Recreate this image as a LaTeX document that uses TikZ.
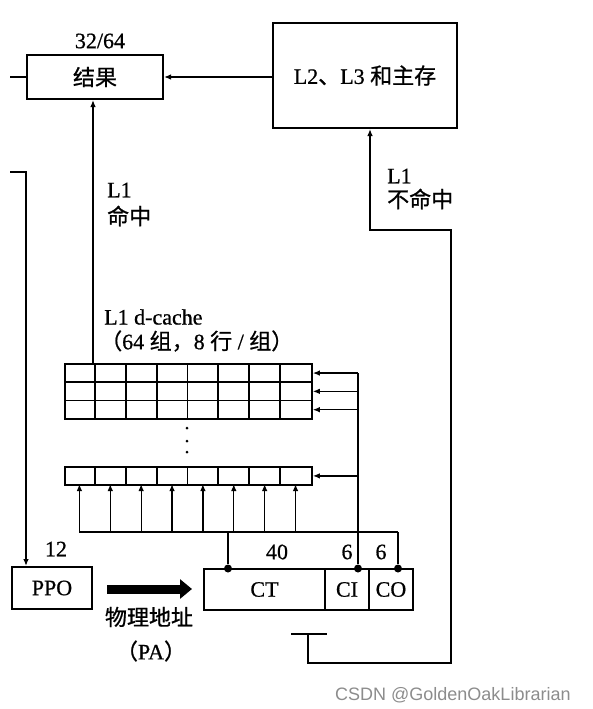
\documentclass[tikz,border=0pt]{standalone}
\usepackage{fontspec}
\setmainfont{Liberation Serif}[FakeBold=0.7]
\newfontfamily\cjk{Noto Sans CJK SC}[FakeBold=0.9]
\newfontfamily\wmfont{Liberation Sans}
\usetikzlibrary{arrows.meta}
\begin{document}
\begin{tikzpicture}[x=1pt,y=-1pt,
  box/.style={draw,line width=2pt,inner sep=0pt,font=\fontsize{22}{26}\selectfont},
  conn/.style={line width=1.3pt},
  arr/.style={conn,-{Latex[length=7pt,width=5.5pt]}},
  lbl/.style={inner sep=0pt,font=\fontsize{22}{26}\selectfont},
  cachebox/.style={draw,line width=1.8pt,inner sep=0pt,minimum width=247pt,anchor=north west},
  bigdot/.style={circle,fill,inner sep=0pt,minimum size=8pt},
  smalldot/.style={circle,fill,inner sep=0pt,minimum size=3pt},
  fat/.style={line width=9pt,-{Triangle[length=12pt,width=19pt]}},
]
\useasboundingbox (0,0) rectangle (592,709);

% main boxes
\node[box,minimum width=136pt,minimum height=44pt] (res) at (95,77) {\cjk 结果};
\node[box,minimum width=184pt,minimum height=105pt] (l2) at (365,75.5) {L2{\cjk 、}L3 {\cjk 和主存}};
\node[box,minimum width=80pt,minimum height=42pt] (ppo) at (52,588) {PPO};
\node[box,minimum width=121pt,minimum height=41pt] (ct) at (264.5,589.5) {CT};
\node[box,minimum width=44pt,minimum height=41pt] (ci) at (347,589.5) {CI};
\node[box,minimum width=44pt,minimum height=41pt] (co) at (391,589.5) {CO};

% labels
\node[lbl] (w3264) at (100,41) {32/64};
\node[lbl,anchor=west] (hit1) at (107,190) {L1};
\node[lbl,anchor=west] (hit2) at (107,216) {\cjk 命中};
\node[lbl,anchor=west] (miss1) at (387,176) {L1};
\node[lbl,anchor=west] (miss2) at (387,199) {\cjk 不命中};
\node[lbl,anchor=west] (cname) at (104,317) {L1 d-cache};
\node[lbl,anchor=west] (cdesc) at (100,341) {{\cjk （}64 {\cjk 组，}8 {\cjk 行} / {\cjk 组）}};
\node[lbl] (n12) at (56,549) {12};
\node[lbl] (n40) at (277,552) {40};
\node[lbl] (n6a) at (347,552) {6};
\node[lbl] (n6b) at (381,552) {6};
\node[lbl] (pa1) at (149,617) {\cjk 物理地址};
\node[lbl] (pa2) at (151,651) {{\cjk （}PA{\cjk ）}};
\node[inner sep=0pt,anchor=west,text=black!45,font=\wmfont\fontsize{18}{20}\selectfont] (wm) at (335,695) {CSDN @GoldenOakLibrarian};

% cache rows
\node[cachebox,minimum height=18.3pt] (r1) at (64,363) {};
\node[cachebox,minimum height=18.3pt] (r2) at (64,381.3) {};
\node[cachebox,minimum height=18.4pt] (r3) at (64,399.6) {};
\node[cachebox,minimum height=18pt] (r4) at (64,466) {};
\foreach \i in {1,...,7} {
  \draw[line width=1.8pt] ({64+30.875*\i},363) -- ({64+30.875*\i},418);
  \draw[line width=1.8pt] ({64+30.875*\i},466) -- ({64+30.875*\i},484);
}
\node[smalldot] (v1) at (187,428) {};
\node[smalldot] (v2) at (187,441) {};
\node[smalldot] (v3) at (187,452) {};

% address field dots
\node[bigdot] (dct) at (228,568.5) {};
\node[bigdot] (dci) at (358,568.5) {};
\node[bigdot] (dco) at (398,568.5) {};

% connectors
\coordinate (s1) at (10,77);
\draw[conn] (s1) -- (res.west);
\draw[arr] (res.east -| l2.west) -- (res.east);

\coordinate (s2) at (10,172);
\coordinate (s2c) at (26,172);
\draw[arr] (s2) -- (s2c) -- (s2c |- ppo.north);

\coordinate (hit) at (93,363);
\draw[arr] (hit) -- (hit |- res.south);

\coordinate (tl) at (291,634);
\coordinate (tr) at (327,634);
\coordinate (tm) at (308,634);
\coordinate (m1) at (308,663);
\coordinate (m2) at (451,663);
\coordinate (m3) at (451,230);
\coordinate (m4) at (370,230);
\draw[conn] (tl) -- (tr);
\draw[arr] (tm) -- (m1) -- (m2) -- (m3) -- (m4) -- (m4 |- l2.south);

% set index line
\draw[conn] (dci) -- (dci |- r1.east);
\foreach \r in {r1,r2,r3,r4}
  \draw[arr] (\r.east -| dci) -- (\r.east);

% bus
\coordinate (b0) at (79.4,532);
\draw[conn] (b0) -- (b0 -| dco);
\draw[conn] (dct) -- (dct |- b0);
\draw[conn] (dco) -- (dco |- b0);
\foreach \i in {0,...,7}
  \draw[arr] ({79.4+30.875*\i},532) -- ({79.4+30.875*\i},484);

% thick PA arrow
\coordinate (fa) at (107,589);
\coordinate (fb) at (192,589);
\draw[fat] (fa) -- (fb);
\end{tikzpicture}
\end{document}
